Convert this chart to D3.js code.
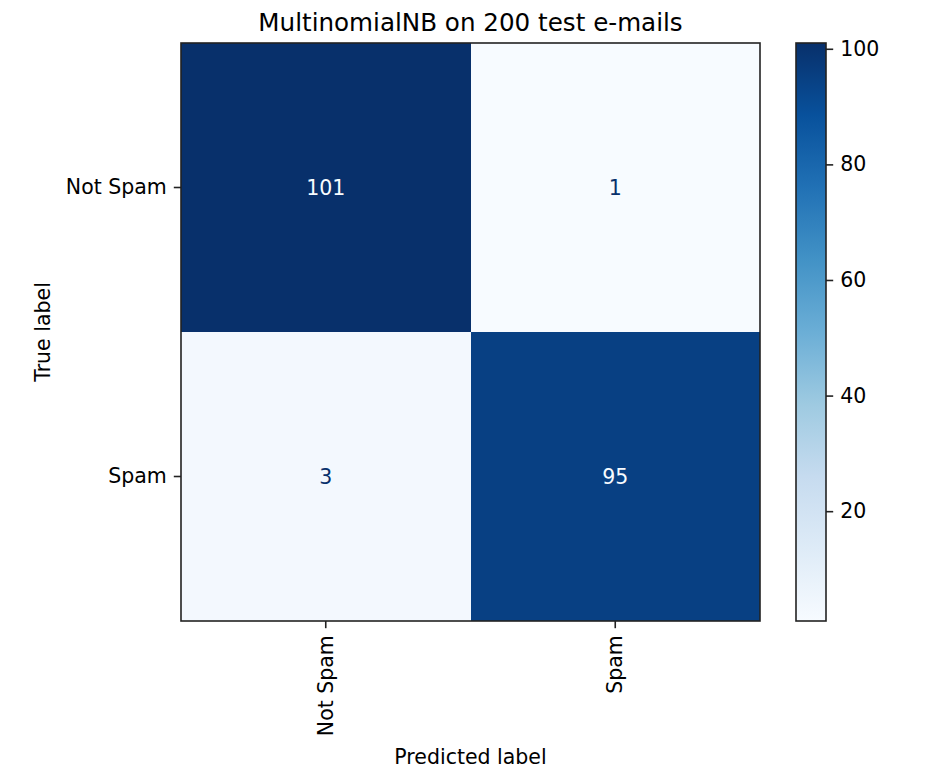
<!DOCTYPE html>
<html>
<head>
<meta charset="utf-8">
<script src="https://cdn.jsdelivr.net/npm/d3@7"></script>
<style>
  body { margin: 0; background: #fff; }
  svg { font-family: "DejaVu Sans", sans-serif; }
</style>
</head>
<body>
<div id="chart"></div>
<script>
const trueLabels = ["Not Spam", "Spam"];
const predLabels = ["Not Spam", "Spam"];
const counts = [
    [101, 1],
    [3, 95]
];
const colorbarTicks = [20, 40, 60, 80, 100];
const title = "MultinomialNB on 200 test e-mails";

const width = 930;
const height = 780;
const plotLeft = 181, plotRight = 760, plotTop = 43, plotBottom = 621;
const cbLeft = 796, cbRight = 826;
const fontSize = 20.5;

const svg = d3.select("#chart")
    .append("svg")
    .attr("width", width)
    .attr("height", height);

const flat = counts.flat();
const vmin = d3.min(flat), vmax = d3.max(flat);

// matplotlib "Blues" is a linear ramp over the 9 colorbrewer stops
const blues = ["#f7fbff", "#deebf7", "#c6dbef", "#9ecae1", "#6baed6", "#4292c6", "#2171b5", "#08519c", "#08306b"];
const color = d3.scaleLinear()
    .domain(d3.range(blues.length).map(i => vmin + (vmax - vmin) * i / (blues.length - 1)))
    .range(blues)
    .interpolate(d3.interpolateRgb);

const x = d3.scaleBand().domain(predLabels).range([plotLeft, plotRight]);
const y = d3.scaleBand().domain(trueLabels).range([plotTop, plotBottom]);

const cells = [];
trueLabels.forEach((t, i) => predLabels.forEach((p, j) => cells.push({ t, p, v: counts[i][j] })));

svg.append("g")
    .selectAll("rect")
    .data(cells)
    .join("rect")
    .attr("x", d => x(d.p))
    .attr("y", d => y(d.t))
    .attr("width", x.bandwidth())
    .attr("height", y.bandwidth())
    .attr("fill", d => color(d.v))
    .attr("shape-rendering", "crispEdges");

const thresh = (vmax + vmin) / 2;
svg.append("g")
    .selectAll("text")
    .data(cells)
    .join("text")
    .attr("x", d => x(d.p) + x.bandwidth() / 2)
    .attr("y", d => y(d.t) + y.bandwidth() / 2)
    .attr("text-anchor", "middle")
    .attr("dominant-baseline", "central")
    .attr("font-size", fontSize)
    .attr("fill", d => d.v < thresh ? blues[8] : blues[0])
    .text(d => d.v);

svg.append("rect")
    .attr("x", plotLeft).attr("y", plotTop)
    .attr("width", plotRight - plotLeft).attr("height", plotBottom - plotTop)
    .attr("fill", "none").attr("stroke", "#222").attr("stroke-width", 1.6);

const tickLen = 7.2;
const tickPad = 7;

// x axis
svg.append("g")
    .attr("transform", `translate(0,${plotBottom})`)
    .call(d3.axisBottom(x).tickSize(tickLen).tickPadding(tickPad))
    .call(g => g.select(".domain").remove())
    .call(g => g.selectAll("line").attr("stroke", "#222").attr("stroke-width", 1.6))
    .call(g => g.selectAll("text")
        .attr("font-size", fontSize)
        .attr("font-family", "DejaVu Sans")
        .attr("fill", "#000")
        .attr("transform", "rotate(-90)")
        .attr("text-anchor", "end")
        .attr("dy", "0.35em")
        .attr("y", 0)
        .attr("x", -(tickLen + tickPad)));

// y axis
svg.append("g")
    .attr("transform", `translate(${plotLeft},0)`)
    .call(d3.axisLeft(y).tickSize(tickLen).tickPadding(tickPad))
    .call(g => g.select(".domain").remove())
    .call(g => g.selectAll("line").attr("stroke", "#222").attr("stroke-width", 1.6))
    .call(g => g.selectAll("text")
        .attr("font-size", fontSize)
        .attr("font-family", "DejaVu Sans")
        .attr("fill", "#000"));

// colorbar
const cbScale = d3.scaleLinear().domain([vmin, vmax]).range([plotBottom, plotTop]);
const defs = svg.append("defs");
const grad = defs.append("linearGradient")
    .attr("id", "cbgrad")
    .attr("x1", 0).attr("y1", 1).attr("x2", 0).attr("y2", 0);
blues.forEach((c, i) => grad.append("stop")
    .attr("offset", i / (blues.length - 1))
    .attr("stop-color", c));

svg.append("rect")
    .attr("x", cbLeft).attr("y", plotTop)
    .attr("width", cbRight - cbLeft).attr("height", plotBottom - plotTop)
    .attr("fill", "url(#cbgrad)")
    .attr("stroke", "#222").attr("stroke-width", 1.6);

svg.append("g")
    .attr("transform", `translate(${cbRight},0)`)
    .call(d3.axisRight(cbScale).tickValues(colorbarTicks).tickSize(tickLen).tickPadding(tickPad))
    .call(g => g.select(".domain").remove())
    .call(g => g.selectAll("line").attr("stroke", "#222").attr("stroke-width", 1.6))
    .call(g => g.selectAll("text")
        .attr("font-size", fontSize)
        .attr("font-family", "DejaVu Sans")
        .attr("fill", "#000"));

// labels
svg.append("text")
    .attr("x", (plotLeft + plotRight) / 2)
    .attr("y", 31)
    .attr("text-anchor", "middle")
    .attr("font-size", 24.6)
    .text(title);

svg.append("text")
    .attr("x", (plotLeft + plotRight) / 2)
    .attr("y", 764)
    .attr("text-anchor", "middle")
    .attr("font-size", fontSize)
    .text("Predicted label");

svg.append("text")
    .attr("transform", `translate(50,${(plotTop + plotBottom) / 2}) rotate(-90)`)
    .attr("text-anchor", "middle")
    .attr("font-size", fontSize)
    .text("True label");
</script>
</body>
</html>
